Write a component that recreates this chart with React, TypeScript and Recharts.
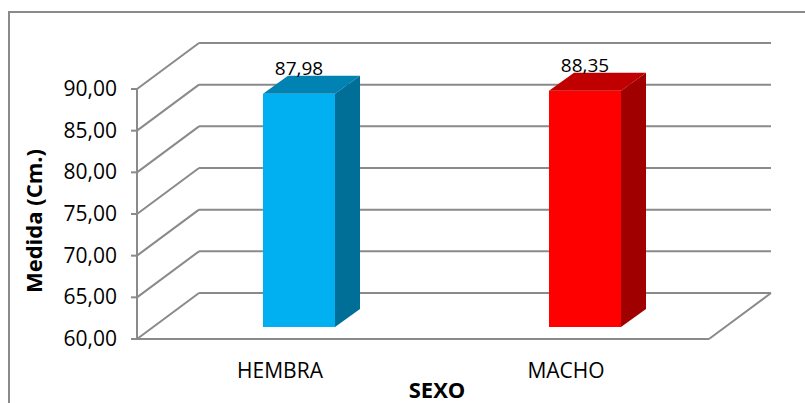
import { BarChart, Bar, XAxis, YAxis, CartesianGrid, LabelList, Label } from "recharts";

const categories = ["HEMBRA", "MACHO"];
const medidas = [87.98, 88.35];
const yTicks = [60, 65, 70, 75, 80, 85, 90];

const data = categories.map((sexo, i) => ({ sexo, medida: medidas[i] }));

const BAR_COLORS = [
  { front: "#00B0F0", top: "#0082B2", side: "#006F98" },
  { front: "#FF0000", top: "#C00000", side: "#A00000" },
];

const LINE = "#8a8a8a";
const FONT = "'Open Sans', sans-serif";

// 3D offsets: the back wall sits WALL_DX/WALL_DY behind the front plane,
// bars are pushed in by SHIFT and have their own depth.
const WALL_DX = 62;
const WALL_DY = 46;
const SHIFT_X = 19;
const SHIFT_Y = 12;
const BAR_DX = 25;
const BAR_DY = 18;

const fmt = (v: number) => v.toFixed(2).replace(".", ",");

function WallLine(props: any) {
  const { x1, x2, y1, index } = props;
  const floor = index === 0;
  return (
    <g key={`wall-${index}`}>
      <line x1={x1} y1={y1} x2={x1 + WALL_DX} y2={y1 - WALL_DY} stroke={LINE} strokeWidth={2} />
      <line x1={x1 + WALL_DX} y1={y1 - WALL_DY} x2={x2 + WALL_DX} y2={y1 - WALL_DY} stroke={LINE} strokeWidth={2} />
      {floor && (
        <>
          <line x1={x1} y1={y1} x2={x2} y2={y1} stroke={LINE} strokeWidth={2} />
          <line x1={x2} y1={y1} x2={x2 + WALL_DX} y2={y1 - WALL_DY} stroke={LINE} strokeWidth={2} />
        </>
      )}
    </g>
  );
}

function Bar3D(props: any) {
  const { x, y, width, height, index } = props;
  const c = BAR_COLORS[index % BAR_COLORS.length];
  const fx = x + SHIFT_X;
  const fy = y - SHIFT_Y;
  const top = `${fx},${fy} ${fx + BAR_DX},${fy - BAR_DY} ${fx + width + BAR_DX},${fy - BAR_DY} ${fx + width},${fy}`;
  const side = `${fx + width},${fy} ${fx + width + BAR_DX},${fy - BAR_DY} ${fx + width + BAR_DX},${fy + height - BAR_DY} ${fx + width},${fy + height}`;
  return (
    <g>
      <rect x={fx} y={fy} width={width} height={height} fill={c.front} />
      <polygon points={top} fill={c.top} />
      <polygon points={side} fill={c.side} />
    </g>
  );
}

function YTick(props: any) {
  const { x, y, payload } = props;
  return (
    <g>
      <line x1={x - 6} y1={y} x2={x} y2={y} stroke={LINE} strokeWidth={2} />
      <text x={x - 20} y={y + 7} textAnchor="end" fontFamily={FONT} fontSize={21} fill="#000">
        {fmt(payload.value)}
      </text>
    </g>
  );
}

function XTick(props: any) {
  const { x, y, payload } = props;
  return (
    <text x={x} y={y + 39} textAnchor="middle" fontFamily={FONT} fontSize={21} fill="#000">
      {payload.value}
    </text>
  );
}

function ValueLabel(props: any) {
  const { x, y, width, value } = props;
  return (
    <text x={x + width / 2 + SHIFT_X} y={y - 31} textAnchor="middle" fontFamily={FONT} fontSize={19} fill="#000">
      {fmt(value)}
    </text>
  );
}

export default function App() {
  return (
    <div style={{ position: "absolute", left: 0, top: 0, width: 805, height: 403, overflow: "hidden", background: "#fff" }}>
      <div
        style={{
          position: "absolute",
          left: 8,
          top: 11,
          width: 900,
          height: 500,
          border: `2px solid ${LINE}`,
        }}
      />
      <div style={{ position: "absolute", left: 0, top: 0 }}>
        <BarChart
          width={805}
          height={403}
          data={data}
          margin={{ top: 89, right: 96, bottom: 0, left: 0 }}
          barSize={72}
        >
          <CartesianGrid vertical={false} horizontal={WallLine} syncWithTicks />
          <XAxis
            dataKey="sexo"
            height={64}
            axisLine={false}
            tickLine={false}
            tickSize={0}
            tickMargin={0}
            tick={<XTick />}
          >
            <Label
              content={(p: any) => (
                <text
                  x={p.viewBox.x + p.viewBox.width / 2 + 14}
                  y={p.viewBox.y + 59}
                  textAnchor="middle"
                  fontFamily={FONT}
                  fontSize={22}
                  fontWeight="bold"
                  fill="#000"
                >
                  SEXO
                </text>
              )}
            />
          </XAxis>
          <YAxis
            width={137}
            domain={[60, 90]}
            ticks={yTicks}
            interval={0}
            axisLine={{ stroke: LINE, strokeWidth: 2 }}
            tickLine={false}
            tickSize={0}
            tickMargin={0}
            tick={<YTick />}
          >
            <Label
              content={(p: any) => {
                const cx = 33;
                const cy = p.viewBox.y + p.viewBox.height / 2 + 7;
                return (
                  <text
                    x={cx}
                    y={cy}
                    transform={`rotate(-90 ${cx} ${cy})`}
                    textAnchor="middle"
                    dominantBaseline="central"
                    fontFamily={FONT}
                    fontSize={22}
                    fontWeight="bold"
                    fill="#000"
                  >
                    Medida (Cm.)
                  </text>
                );
              }}
            />
          </YAxis>
          <Bar dataKey="medida" shape={<Bar3D />} isAnimationActive={false}>
            <LabelList dataKey="medida" content={<ValueLabel />} />
          </Bar>
        </BarChart>
      </div>
    </div>
  );
}
